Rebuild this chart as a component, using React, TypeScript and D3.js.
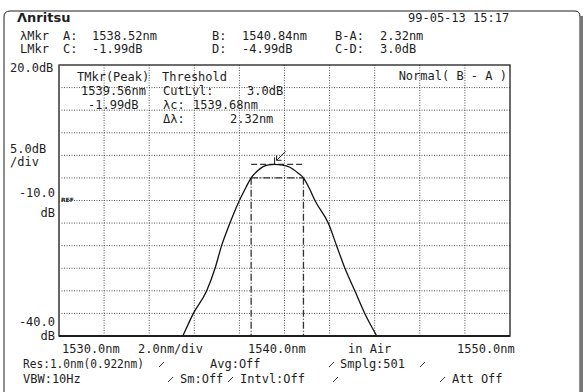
import * as d3 from "d3";

// trace (nm, dBm)
const wavelengths = [
  1535.3, 1535.49, 1535.96, 1536.55, 1536.92, 1537.21, 1537.58, 1538.0, 1538.3,
  1538.52, 1538.77, 1539.05, 1539.3, 1539.56, 1539.85, 1540.24, 1540.61,
  1540.84, 1541.1, 1541.35, 1541.94, 1542.31, 1542.68, 1543.12, 1543.56,
  1544.09, 1544.25,
];
const levels = [
  -42, -40, -35, -30, -25, -20, -15, -10, -7, -4.99, -3.6, -2.5, -2.1, -1.99,
  -2.1, -2.63, -3.96, -4.99, -7.3, -10, -15, -20, -25, -30, -35, -40, -41.5,
];

const xTicks = [1530, 1532, 1534, 1536, 1538, 1540, 1542, 1544, 1546, 1548, 1550];
const yTicks = [20, 15, 10, 5, 0, -5, -10, -15, -20, -25, -30, -35, -40];

const markerA = 1538.52;
const markerB = 1540.84;
const peakWl = 1539.56;
const peakLvl = -1.99;
const cutLvl = -4.99;

const W = 583;
const H = 392;
const plot = { left: 59, right: 510, top: 65, bottom: 336 };
const mono = "'DejaVu Sans Mono', monospace";
const ink = "#1e1e1e";

export default function App() {
  const x = d3.scaleLinear().domain([1530, 1550]).range([plot.left, plot.right]);
  const y = d3.scaleLinear().domain([-40, 20]).range([plot.bottom, plot.top]);

  const pts: [number, number][] = wavelengths.map((w, i) => [w, levels[i]]);
  const line = d3
    .line<[number, number]>()
    .x((d) => x(d[0]))
    .y((d) => y(d[1]))
    .curve(d3.curveMonotoneX);

  const px = x(peakWl);
  const py = y(peakLvl);

  const T = (props: any) => (
    <text fontFamily={mono} fontSize={12} fill={ink} {...props} />
  );
  const slash = (sx: number, sy: number) => (
    <line x1={sx} y1={sy} x2={sx + 5} y2={sy - 5} stroke={ink} strokeWidth={0.9} />
  );

  return (
    <svg
      width={W}
      height={H}
      style={{ position: "absolute", left: 0, top: 0, background: "#fff" }}
    >
      <defs>
        <clipPath id="plotClip">
          <rect x={plot.left} y={plot.top} width={plot.right - plot.left} height={plot.bottom - plot.top} />
        </clipPath>
      </defs>

      {/* outer panel */}
      <path
        d={`M4,${H + 2} L4,17 Q4,11 10,11 L575,11 Q580,11 580,17 L580,${H + 2}`}
        fill="none"
        stroke={ink}
        strokeWidth={1}
      />
      <rect x={580} y={16} width={3} height={H - 16} fill="#777" />

      {/* header */}
      <text x={17} y={22} fontFamily="'DejaVu Sans', sans-serif" fontWeight="bold" fontSize={13} fill={ink}>
        Λnritsu
      </text>
      <T x={408} y={22}>99-05-13 15:17</T>
      <T x={20} y={40}>λMkr</T>
      <T x={63} y={40}>A:</T>
      <T x={92} y={40}>1538.52nm</T>
      <T x={212} y={40}>B:</T>
      <T x={242} y={40}>1540.84nm</T>
      <T x={335} y={40}>B-A:</T>
      <T x={380} y={40}>2.32nm</T>
      <T x={20} y={53}>LMkr</T>
      <T x={63} y={53}>C:</T>
      <T x={92} y={53}>-1.99dB</T>
      <T x={212} y={53}>D:</T>
      <T x={242} y={53}>-4.99dB</T>
      <T x={335} y={53}>C-D:</T>
      <T x={380} y={53}>3.0dB</T>

      {/* left scale labels */}
      <T x={10} y={72}>20.0dB</T>
      <T x={10} y={153}>5.0dB</T>
      <T x={10} y={166}>/div</T>
      <T x={55} y={197} textAnchor="end">-10.0</T>
      <T x={55} y={217} textAnchor="end">dB</T>
      <T x={55} y={326} textAnchor="end">-40.0</T>
      <T x={55} y={340} textAnchor="end">dB</T>

      {/* grid */}
      {yTicks.slice(1, -1).map((t) => (
        <line key={"h" + t} x1={plot.left} x2={plot.right} y1={y(t)} y2={y(t)}
          stroke="#555" strokeWidth={1} strokeDasharray="1,1.5" />
      ))}
      {xTicks.slice(1, -1).map((t) => (
        <line key={"v" + t} x1={x(t)} x2={x(t)} y1={plot.top} y2={plot.bottom}
          stroke="#555" strokeWidth={1} strokeDasharray="1,1.5" />
      ))}
      <text x={61} y={202} fontFamily="'DejaVu Sans', sans-serif" fontSize={6} fontWeight="bold" fill={ink}>REF</text>

      {/* marker annotations inside plot */}
      <T x={77} y={81}>TMkr(Peak)</T>
      <T x={162} y={81}>Threshold</T>
      <T x={81} y={95}>1539.56nm</T>
      <T x={163} y={95}>CutLvl:</T>
      <T x={247} y={95}>3.0dB</T>
      <T x={88} y={109}>-1.99dB</T>
      <T x={163} y={109}>λc:</T>
      <T x={193} y={109}>1539.68nm</T>
      <T x={163} y={123}>Δλ:</T>
      <T x={230} y={123}>2.32nm</T>
      <T x={507} y={80} textAnchor="end">Normal( B - A )</T>

      {/* threshold markers */}
      <g stroke="#333" strokeWidth={1.3} fill="none" strokeDasharray="7,2,1,2">
        <line x1={x(markerA)} x2={x(markerA)} y1={y(cutLvl)} y2={plot.bottom} />
        <line x1={x(markerB)} x2={x(markerB)} y1={y(cutLvl)} y2={plot.bottom} />
        <line x1={x(markerA)} x2={x(markerB)} y1={y(cutLvl)} y2={y(cutLvl)} />
      </g>
      <line x1={x(markerA)} x2={x(markerB)} y1={py} y2={py} stroke="#333" strokeWidth={1.2} strokeDasharray="6,3" />
      <line x1={px} x2={px} y1={py - 7} y2={py} stroke={ink} strokeWidth={1} />
      <g stroke={ink} strokeWidth={1} fill="none">
        <line x1={px + 11} y1={py - 13} x2={px + 2} y2={py - 4} />
        <path d={`M${px + 2},${py - 9} L${px + 2},${py - 4} L${px + 7},${py - 4}`} />
      </g>

      {/* trace */}
      <path d={line(pts) ?? ""} fill="none" stroke="#111" strokeWidth={1.3} clipPath="url(#plotClip)" />

      {/* plot frame */}
      <rect x={plot.left} y={plot.top} width={plot.right - plot.left} height={plot.bottom - plot.top}
        fill="none" stroke={ink} strokeWidth={1.3} />
      <line x1={plot.left} x2={plot.left} y1={plot.top} y2={plot.bottom} stroke="#666" strokeWidth={2} />
      <line x1={plot.left} x2={plot.right} y1={plot.bottom} y2={plot.bottom} stroke={ink} strokeWidth={2} />

      {/* x labels */}
      <T x={62} y={353}>1530.0nm</T>
      <T x={138} y={353}>2.0nm/div</T>
      <T x={248} y={353}>1540.0nm</T>
      <T x={348} y={353}>in Air</T>
      <T x={457} y={353}>1550.0nm</T>

      {/* footer settings */}
      <T x={23} y={368} textLength={121} lengthAdjust="spacingAndGlyphs">Res:1.0nm(0.922nm)</T>
      {slash(159, 367)}
      <T x={210} y={368}>Avg:Off</T>
      {slash(329, 367)}
      <T x={340} y={368}>Smplg:501</T>
      {slash(420, 367)}
      <T x={23} y={383}>VBW:10Hz</T>
      {slash(168, 382)}
      <T x={180} y={383}>Sm:Off</T>
      {slash(228, 382)}
      <T x={240} y={383}>Intvl:Off</T>
      {slash(333, 382)}
      {slash(440, 382)}
      <T x={452} y={383}>Att Off</T>
    </svg>
  );
}
